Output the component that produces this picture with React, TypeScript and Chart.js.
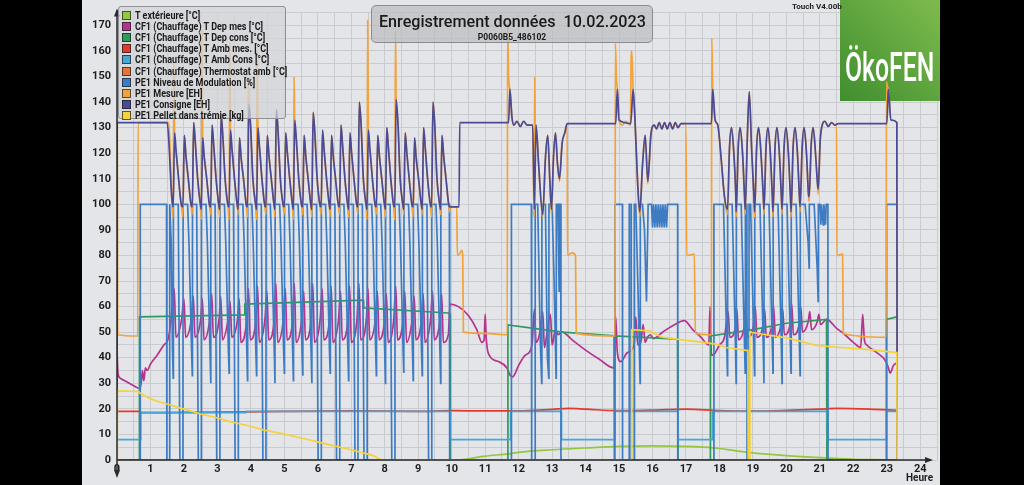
import React, { useEffect, useRef } from 'react';
import { Chart, registerables } from 'chart.js';

Chart.register(...registerables);

type P = [number, number];

const legendLabels = [
  'T extérieure [°C]',
  'CF1 (Chauffage) T Dep mes [°C]',
  'CF1 (Chauffage) T Dep cons [°C]',
  'CF1 (Chauffage) T Amb mes. [°C]',
  'CF1 (Chauffage) T Amb Cons [°C]',
  'CF1 (Chauffage) Thermostat amb [°C]',
  'PE1 Niveau de Modulation [%]',
  'PE1 Mesure [EH]',
  'PE1 Consigne [EH]',
  'PE1 Pellet dans trémie [kg]',
];

const seriesColors = [
  '#93c83e', '#b5338f', '#2f9a5c', '#e23a2d', '#46a6d6',
  '#e5763a', '#3d7cc3', '#f2a33a', '#4b4a95', '#f5d23a',
];

const tExt: P[] = [
  [0, 0], [1, -0.2], [2, -0.5], [3, -0.7], [4, -1.0], [5, -1.3], [6, -1.6], [7, -2.0], [8, -2.3],
  [9, -1.8], [9.5, -1.2], [10, -0.4], [10.5, 0.5], [11, 1.5], [11.7, 2.4], [12, 3.0], [13, 4.0],
  [14, 4.7], [15, 5.3], [16, 5.5], [17, 5.3], [17.5, 5.0], [18, 4.5], [18.5, 3.6], [19, 2.8],
  [20, 1.7], [21, 0.9], [22, 0.3], [23, 0.1], [23.3, 0],
];

const depMes: P[] = [
  [0, 43], [0.03, 34], [0.1, 32], [0.3, 30.5], [0.5, 29], [0.68, 28], [0.72, 30], [0.76, 35], [0.8, 31],
  [0.85, 36], [0.9, 35], [1.0, 37.5], [1.2, 41], [1.4, 45], [1.52, 47], [1.6, 53],
  [1.71, 67], [1.76, 48], [1.93, 55], [2.00, 63], [2.05, 48], [2.22, 55], [2.28, 64], [2.33, 48], [2.50, 55],
  [2.55, 63], [2.60, 47], [2.77, 55], [2.83, 65], [2.88, 48], [3.05, 55], [3.10, 64], [3.15, 47], [3.32, 55],
  [3.38, 62], [3.43, 48], [3.60, 55], [3.65, 63], [3.70, 46], [3.87, 54], [3.93, 67], [3.98, 47], [4.15, 55],
  [4.20, 68], [4.25, 46], [4.42, 55], [4.48, 66], [4.53, 47], [4.70, 55], [4.75, 69], [4.80, 46], [4.97, 55],
  [5.03, 67], [5.08, 47], [5.25, 55], [5.30, 69], [5.35, 46], [5.52, 55], [5.58, 66], [5.63, 47], [5.80, 55],
  [5.85, 69], [5.90, 46], [6.07, 55], [6.13, 67], [6.18, 47], [6.35, 55], [6.40, 68], [6.45, 46], [6.62, 55],
  [6.68, 66], [6.73, 47], [6.90, 55], [6.95, 68], [7.00, 46], [7.17, 55], [7.23, 69], [7.28, 47], [7.45, 55],
  [7.50, 67], [7.55, 47], [7.72, 55], [7.78, 66], [7.83, 47], [8.00, 55], [8.05, 65], [8.10, 46], [8.27, 55],
  [8.33, 68], [8.38, 47], [8.55, 55], [8.60, 66], [8.65, 46], [8.82, 55], [8.88, 64], [8.93, 47], [9.10, 55],
  [9.15, 65], [9.20, 46], [9.37, 55], [9.43, 66], [9.48, 47], [9.65, 55], [9.70, 65], [9.75, 46], [9.90, 49],
  [9.95, 61], [10.2, 60], [10.5, 56.5], [10.75, 51], [10.9, 46], [10.97, 47], [11.0, 57], [11.03, 48],
  [11.1, 41.5], [11.4, 38.5], [11.65, 36], [11.75, 33], [11.82, 32.5], [12.0, 37], [12.2, 41], [12.4, 45],
  [12.47, 59], [12.52, 46], [12.62, 49], [12.72, 58], [12.77, 44], [12.85, 50], [12.95, 57], [13.0, 45],
  [13.1, 51], [13.18, 49], [13.3, 50], [13.6, 47], [14.0, 43], [14.4, 39.5], [14.85, 36], [14.9, 56],
  [14.95, 42], [15.05, 38.5], [15.25, 42], [15.45, 45], [15.5, 56], [15.56, 45], [15.65, 46], [15.72, 53],
  [15.78, 46], [15.85, 48], [15.93, 49], [16.03, 47.5], [16.3, 50], [16.6, 52.5], [16.95, 54.5], [17.2, 51],
  [17.45, 48], [17.68, 45], [17.72, 60], [17.76, 41], [17.85, 41.5], [18.0, 45], [18.15, 48],
  [18.26, 58], [18.31, 48], [18.48, 52], [18.52, 59], [18.57, 47], [18.74, 52], [18.79, 58], [18.84, 48],
  [19.01, 52], [19.07, 60], [19.12, 48], [19.29, 52], [19.35, 59], [19.40, 48], [19.57, 53], [19.62, 60],
  [19.67, 48], [19.84, 53], [19.89, 59], [19.94, 49], [20.11, 53], [20.16, 61], [20.21, 49], [20.38, 53],
  [20.43, 60], [20.48, 50], [20.65, 54], [20.70, 58], [20.75, 51], [20.92, 54], [20.97, 57], [21.02, 53],
  [21.2, 55], [21.5, 51.5], [21.75, 49], [22.0, 46], [22.22, 44], [22.28, 57], [22.33, 47], [22.4, 45],
  [22.7, 42], [22.95, 39], [23.05, 36], [23.1, 34], [23.2, 37], [23.3, 38],
];

const depCons: P[] = [
  [0, 0], [0.66, 0], [0.67, 56], [3.8, 56.8], [3.82, 61], [7.35, 62.5], [7.37, 59.5], [9.9, 57.5],
  [9.95, 57], [9.96, 0], [11.67, 0], [11.68, 52.8], [13.3, 50], [14.85, 48.6], [14.86, 0], [14.88, 48.5],
  [16.75, 47.3], [16.76, 0], [17.72, 0], [17.73, 48.5], [19, 51], [20, 53.5], [21.2, 55], [21.21, 0],
  [22.98, 0], [22.99, 55], [23.3, 56],
];

const ambMes: P[] = [
  [0, 19], [0.7, 19], [0.72, 18.5], [2, 18.6], [3.9, 18.8], [5, 19], [7, 19.2], [9, 19], [10, 19.3],
  [11, 19.2], [12, 19.2], [13, 19.8], [13.5, 20.2], [14, 19.9], [15, 19.3], [16, 19.5], [17, 19.9],
  [18, 19.3], [19, 19.1], [20, 19.4], [21, 19.9], [21.5, 20.2], [22.5, 19.9], [23.3, 19.4],
];

const ambCons: P[] = [
  [0, 8], [0.7, 8], [0.71, 18.5], [3.85, 18.5], [3.86, 19], [9.95, 19], [9.96, 8], [11.75, 8], [11.76, 19],
  [13.27, 19], [13.28, 8], [14.87, 8], [14.88, 19], [16.76, 19], [16.77, 8], [17.78, 8], [17.79, 19],
  [21.22, 19], [21.23, 8], [22.98, 8], [22.99, 19], [23.3, 19],
];

const thermostat: P[] = [[0, 0], [23.3, 0]];

const modulation: P[] = [
  [0, 0], [0.69, 0], [0.695, 100], [1.48, 100], [1.49, 0], [1.57, 0], [1.575, 100],
  [1.62, 85], [1.66, 42], [1.68, 32], [1.685, 100],
  [1.83, 100], [1.88, 0], [1.97, 0], [1.975, 100],
  [2.11, 100], [2.15, 85], [2.23, 42], [2.25, 33], [2.255, 100],
  [2.38, 100], [2.43, 0], [2.52, 0], [2.525, 100],
  [2.66, 100], [2.70, 85], [2.78, 42], [2.80, 30], [2.805, 100],
  [2.93, 100], [2.98, 0], [3.07, 0], [3.075, 100],
  [3.21, 100], [3.25, 85], [3.33, 42], [3.35, 34], [3.355, 100],
  [3.48, 100], [3.53, 0], [3.62, 0], [3.625, 100],
  [3.76, 100], [3.80, 85], [3.88, 42], [3.90, 31], [3.905, 100],
  [4.03, 100], [4.07, 85], [4.15, 42], [4.17, 33], [4.175, 100],
  [4.31, 100], [4.36, 0], [4.45, 0], [4.455, 100],
  [4.58, 100], [4.62, 85], [4.70, 42], [4.72, 30], [4.725, 100],
  [4.86, 100], [4.90, 85], [4.98, 42], [5.00, 34], [5.005, 100],
  [5.13, 100], [5.17, 85], [5.25, 42], [5.27, 31], [5.275, 100],
  [5.41, 100], [5.45, 85], [5.53, 42], [5.55, 33], [5.555, 100],
  [5.68, 100], [5.72, 85], [5.80, 42], [5.82, 30], [5.825, 100],
  [5.96, 100], [6.01, 0], [6.10, 0], [6.105, 100],
  [6.23, 100], [6.27, 85], [6.35, 42], [6.37, 34], [6.375, 100],
  [6.51, 100], [6.56, 0], [6.65, 0], [6.655, 100],
  [6.78, 100], [6.82, 85], [6.90, 42], [6.92, 31], [6.925, 100],
  [7.06, 100], [7.11, 0], [7.20, 0], [7.205, 100],
  [7.33, 100], [7.38, 0], [7.47, 0], [7.475, 100],
  [7.61, 100], [7.65, 85], [7.73, 42], [7.75, 33], [7.755, 100],
  [7.88, 100], [7.92, 85], [8.00, 42], [8.02, 30], [8.025, 100],
  [8.16, 100], [8.21, 0], [8.30, 0], [8.305, 100],
  [8.43, 100], [8.47, 85], [8.55, 42], [8.57, 34], [8.575, 100],
  [8.71, 100], [8.75, 85], [8.83, 42], [8.85, 31], [8.855, 100],
  [8.98, 100], [9.02, 85], [9.10, 42], [9.12, 33], [9.125, 100],
  [9.26, 100], [9.31, 0], [9.40, 0], [9.405, 100],
  [9.53, 100], [9.57, 85], [9.65, 42], [9.67, 30], [9.675, 100],
  [9.93, 100], [9.94, 0], [11.78, 0], [11.785, 100], [12.38, 100], [12.39, 0], [12.49, 0], [12.495, 100],
  [12.57, 100], [12.65, 45], [12.69, 30], [12.695, 100], [12.8, 100], [12.86, 40], [12.9, 32], [12.905, 100],
  [13.0, 100], [13.06, 70], [13.12, 32], [13.125, 100], [13.17, 100], [13.21, 66], [13.215, 100],
  [13.26, 100], [13.265, 0], [14.875, 0], [14.88, 100], [15.1, 100], [15.105, 0], [15.3, 0], [15.305, 100],
  [15.36, 100], [15.365, 0], [15.45, 0], [15.455, 100], [15.5, 100], [15.56, 70], [15.63, 30], [15.635, 100],
  [15.7, 100], [15.76, 90], [15.82, 62], [15.87, 100], [15.97, 100], [16.0, 91], [16.03, 100], [16.07, 91],
  [16.1, 100], [16.14, 91], [16.17, 100], [16.21, 91], [16.24, 100], [16.28, 91], [16.31, 100], [16.35, 91],
  [16.38, 100], [16.42, 91], [16.45, 100], [16.75, 100], [16.755, 0], [17.83, 0], [17.835, 100],
  [18.12, 100], [18.21, 50], [18.24, 33], [18.245, 100],
  [18.38, 100], [18.47, 50], [18.50, 30], [18.505, 100],
  [18.65, 100], [18.74, 50], [18.77, 34], [18.775, 100], [18.82, 100], [18.825, 0], [18.88, 0], [18.885, 100],
  [18.93, 100], [19.02, 50], [19.05, 33], [19.055, 100],
  [19.21, 100], [19.30, 50], [19.33, 30], [19.335, 100],
  [19.48, 100], [19.57, 50], [19.60, 34], [19.605, 100],
  [19.75, 100], [19.84, 50], [19.87, 30], [19.875, 100],
  [20.02, 100], [20.11, 50], [20.14, 34], [20.145, 100],
  [20.29, 100], [20.38, 50], [20.41, 33], [20.415, 100],
  [20.56, 100], [20.65, 85], [20.68, 75], [20.685, 100],
  [20.83, 100], [20.92, 75], [20.95, 62], [20.955, 100],
  [21.0, 100], [21.03, 92], [21.05, 100], [21.1, 92], [21.12, 100], [21.17, 92], [21.19, 100],
  [21.24, 100], [21.245, 0], [22.99, 0], [22.995, 100], [23.3, 100], [23.305, 0],
];

const mesure: P[] = [
  [0, 0], [0.003, 172], [0.02, 49], [0.62, 48.5], [0.63, 132], [1.55, 132], [1.6, 115], [1.66, 96],
  [1.68, 95], [1.70, 155], [1.72, 128], [1.77, 120], [1.84, 110], [1.92, 100],
  [1.97, 95], [2.01, 127], [2.06, 119], [2.13, 110], [2.21, 100],
  [2.25, 96], [2.29, 132], [2.34, 124], [2.41, 110], [2.49, 100],
  [2.52, 94], [2.54, 168], [2.56, 126], [2.61, 118], [2.68, 110], [2.76, 100],
  [2.80, 96], [2.84, 131], [2.89, 123], [2.96, 110], [3.04, 100],
  [3.07, 95], [3.11, 135], [3.16, 127], [3.23, 110], [3.31, 100],
  [3.35, 94], [3.37, 163], [3.39, 129], [3.44, 121], [3.51, 110], [3.59, 100],
  [3.62, 96], [3.66, 126], [3.71, 118], [3.78, 110], [3.86, 100],
  [3.90, 95], [3.92, 148], [3.94, 139], [3.99, 131], [4.06, 110], [4.14, 100],
  [4.17, 94], [4.19, 160], [4.21, 130], [4.26, 122], [4.33, 110], [4.41, 100],
  [4.45, 96], [4.49, 127], [4.54, 119], [4.61, 110], [4.69, 100],
  [4.72, 95], [4.76, 137], [4.81, 129], [4.88, 110], [4.96, 100],
  [5.00, 96], [5.04, 128], [5.09, 120], [5.16, 110], [5.24, 100],
  [5.27, 94], [5.29, 150], [5.31, 133], [5.36, 125], [5.43, 110], [5.51, 100],
  [5.55, 96], [5.59, 127], [5.64, 119], [5.71, 110], [5.79, 100],
  [5.82, 95], [5.86, 136], [5.91, 128], [5.98, 110], [6.06, 100],
  [6.10, 96], [6.14, 129], [6.19, 121], [6.26, 110], [6.34, 100],
  [6.37, 95], [6.41, 127], [6.46, 119], [6.53, 110], [6.61, 100],
  [6.65, 96], [6.69, 131], [6.74, 123], [6.81, 110], [6.89, 100],
  [6.92, 95], [6.96, 128], [7.01, 120], [7.08, 110], [7.16, 100],
  [7.20, 96], [7.24, 140], [7.29, 132], [7.36, 110], [7.44, 100],
  [7.47, 94], [7.49, 172], [7.51, 129], [7.56, 121], [7.63, 110], [7.71, 100],
  [7.75, 96], [7.79, 127], [7.84, 119], [7.91, 110], [7.99, 100],
  [8.02, 95], [8.06, 130], [8.11, 122], [8.18, 110], [8.26, 100],
  [8.30, 94], [8.32, 168], [8.34, 141], [8.39, 133], [8.46, 110], [8.54, 100],
  [8.57, 96], [8.61, 128], [8.66, 120], [8.73, 110], [8.81, 100],
  [8.85, 95], [8.89, 126], [8.94, 118], [9.01, 110], [9.09, 100],
  [9.12, 96], [9.16, 130], [9.21, 122], [9.28, 110], [9.36, 100],
  [9.40, 95], [9.44, 140], [9.49, 132], [9.56, 110], [9.64, 100],
  [9.67, 96], [9.71, 127], [9.76, 119], [9.83, 110], [9.91, 100],
  [9.94, 97], [9.96, 99], [10.15, 99], [10.17, 80], [10.25, 81], [10.3, 82], [10.33, 80], [10.35, 50],
  [11.0, 49.5], [11.66, 49], [11.67, 171], [11.7, 150], [11.74, 145], [11.8, 134], [11.86, 131],
  [11.95, 132.5], [12.05, 130.5], [12.15, 132.5], [12.25, 131], [12.42, 131], [12.46, 95], [12.48, 150],
  [12.5, 128], [12.52, 131], [12.6, 115], [12.72, 95], [12.8, 118], [12.87, 127], [12.93, 110], [12.98, 96],
  [13.04, 118], [13.1, 128], [13.16, 116], [13.22, 109], [13.3, 124], [13.38, 128], [13.45, 131.6],
  [13.46, 80], [13.6, 81], [13.7, 80], [13.72, 49.5], [14.88, 48.5], [14.89, 163], [14.92, 150], [14.95, 145],
  [15.0, 133], [15.1, 131], [15.2, 132.5], [15.34, 131], [15.36, 155], [15.38, 160], [15.42, 145],
  [15.47, 135], [15.55, 110], [15.62, 95], [15.7, 115], [15.78, 127], [15.86, 108], [15.95, 127],
  [16.05, 131], [16.12, 129.5], [16.2, 132], [16.28, 129.5], [16.36, 132], [16.44, 129.5], [16.52, 132],
  [16.6, 129.5], [16.68, 132], [16.76, 130], [16.85, 131.6], [17.0, 131.6], [17.02, 80], [17.25, 80.5],
  [17.28, 49.5], [17.76, 49], [17.77, 165], [17.8, 145], [17.87, 133], [17.95, 131], [18.05, 118],
  [18.15, 103], [18.24, 96],
  [18.30, 122], [18.36, 130], [18.43, 120], [18.49, 103], [18.50, 95], [18.56, 122], [18.62, 130],
  [18.69, 120], [18.75, 103], [18.77, 96], [18.83, 125], [18.89, 144], [18.96, 122], [19.03, 103],
  [19.05, 95], [19.11, 122], [19.17, 130], [19.24, 120], [19.31, 103], [19.33, 96], [19.39, 122],
  [19.45, 130], [19.52, 120], [19.58, 103], [19.60, 95], [19.66, 122], [19.72, 130], [19.79, 120],
  [19.85, 103], [19.87, 96], [19.93, 122], [19.99, 130], [20.06, 120], [20.12, 103], [20.14, 95],
  [20.20, 122], [20.26, 130], [20.33, 120], [20.39, 103], [20.41, 97], [20.47, 122], [20.53, 130],
  [20.60, 120], [20.66, 104], [20.68, 101], [20.74, 123], [20.80, 130], [20.87, 120], [20.93, 108],
  [20.95, 104], [21.01, 125], [21.07, 131], [21.15, 132.5], [21.25, 130.5], [21.35, 132], [21.45, 131],
  [21.5, 131], [21.51, 80], [21.68, 80.5], [21.7, 49.5], [22.98, 48], [22.99, 148], [23.02, 146],
  [23.05, 145], [23.12, 133], [23.3, 132], [23.31, 0],
];

const consigne: P[] = [
  [0, 0], [0.005, 132], [1.5, 132], [1.56, 122], [1.62, 106], [1.66, 100],
  [1.68, 99], [1.72, 128], [1.77, 120], [1.84, 110], [1.92, 100],
  [1.97, 99], [2.01, 127], [2.06, 119], [2.13, 110], [2.21, 100],
  [2.25, 99], [2.29, 132], [2.34, 124], [2.41, 110], [2.49, 100],
  [2.52, 98], [2.56, 126], [2.61, 118], [2.68, 110], [2.76, 100],
  [2.80, 99], [2.84, 131], [2.89, 123], [2.96, 110], [3.04, 100],
  [3.07, 98], [3.11, 135], [3.16, 127], [3.23, 110], [3.31, 100],
  [3.35, 99], [3.39, 129], [3.44, 121], [3.51, 110], [3.59, 100],
  [3.62, 98], [3.66, 126], [3.71, 118], [3.78, 110], [3.86, 100],
  [3.90, 99], [3.94, 139], [3.99, 131], [4.06, 110], [4.14, 100],
  [4.17, 98], [4.21, 130], [4.26, 122], [4.33, 110], [4.41, 100],
  [4.45, 99], [4.49, 127], [4.54, 119], [4.61, 110], [4.69, 100],
  [4.72, 98], [4.76, 137], [4.81, 129], [4.88, 110], [4.96, 100],
  [5.00, 99], [5.04, 128], [5.09, 120], [5.16, 110], [5.24, 100],
  [5.27, 98], [5.31, 133], [5.36, 125], [5.43, 110], [5.51, 100],
  [5.55, 99], [5.59, 127], [5.64, 119], [5.71, 110], [5.79, 100],
  [5.82, 98], [5.86, 136], [5.91, 128], [5.98, 110], [6.06, 100],
  [6.10, 99], [6.14, 129], [6.19, 121], [6.26, 110], [6.34, 100],
  [6.37, 98], [6.41, 127], [6.46, 119], [6.53, 110], [6.61, 100],
  [6.65, 99], [6.69, 131], [6.74, 123], [6.81, 110], [6.89, 100],
  [6.92, 98], [6.96, 128], [7.01, 120], [7.08, 110], [7.16, 100],
  [7.20, 99], [7.24, 140], [7.29, 132], [7.36, 110], [7.44, 100],
  [7.47, 98], [7.51, 129], [7.56, 121], [7.63, 110], [7.71, 100],
  [7.75, 99], [7.79, 127], [7.84, 119], [7.91, 110], [7.99, 100],
  [8.02, 98], [8.06, 130], [8.11, 122], [8.18, 110], [8.26, 100],
  [8.30, 99], [8.34, 141], [8.39, 133], [8.46, 110], [8.54, 100],
  [8.57, 98], [8.61, 128], [8.66, 120], [8.73, 110], [8.81, 100],
  [8.85, 99], [8.89, 126], [8.94, 118], [9.01, 110], [9.09, 100],
  [9.12, 98], [9.16, 130], [9.21, 122], [9.28, 110], [9.36, 100],
  [9.40, 99], [9.44, 140], [9.49, 132], [9.56, 110], [9.64, 100],
  [9.67, 98], [9.71, 127], [9.76, 119], [9.83, 110], [9.91, 100],
  [9.94, 99], [10.22, 99], [10.24, 132], [11.7, 132], [11.74, 145], [11.8, 134], [11.86, 131],
  [11.95, 132.5], [12.05, 130.5], [12.15, 132.5], [12.25, 131], [12.42, 131], [12.47, 98], [12.52, 131],
  [12.6, 115], [12.72, 96], [12.8, 118], [12.87, 127], [12.93, 110], [12.98, 98], [13.04, 118], [13.1, 128],
  [13.16, 116], [13.22, 110], [13.3, 124], [13.38, 128], [13.45, 131.6], [14.9, 131.6], [14.95, 145],
  [15.0, 133], [15.35, 131.6], [15.42, 145], [15.47, 135], [15.55, 110], [15.62, 97], [15.7, 115],
  [15.78, 127], [15.86, 109], [15.95, 127], [16.05, 131], [16.12, 129.5], [16.2, 132], [16.28, 129.5],
  [16.36, 132], [16.44, 129.5], [16.52, 132], [16.6, 129.5], [16.68, 132], [16.76, 130], [16.85, 131.6],
  [17.76, 131.6], [17.8, 145], [17.87, 133], [17.95, 131], [18.05, 118], [18.15, 103], [18.24, 98],
  [18.30, 122], [18.36, 130], [18.43, 120], [18.49, 103], [18.50, 97], [18.56, 122], [18.62, 130],
  [18.69, 120], [18.75, 103], [18.77, 98], [18.83, 125], [18.89, 144], [18.96, 122], [19.03, 103],
  [19.05, 97], [19.11, 122], [19.17, 130], [19.24, 120], [19.31, 103], [19.33, 98], [19.39, 122],
  [19.45, 130], [19.52, 120], [19.58, 103], [19.60, 97], [19.66, 122], [19.72, 130], [19.79, 120],
  [19.85, 103], [19.87, 98], [19.93, 122], [19.99, 130], [20.06, 120], [20.12, 103], [20.14, 97],
  [20.20, 122], [20.26, 130], [20.33, 120], [20.39, 103], [20.41, 99], [20.47, 122], [20.53, 130],
  [20.60, 120], [20.66, 104], [20.68, 103], [20.74, 123], [20.80, 130], [20.87, 120], [20.93, 108],
  [20.95, 106], [21.01, 125], [21.07, 131], [21.15, 132.5], [21.25, 130.5], [21.35, 132], [21.45, 131],
  [21.55, 131.6], [23.0, 131.6], [23.05, 145], [23.12, 133], [23.3, 132], [23.31, 0],
];

const pellet: P[] = [
  [0, 0], [0.01, 27], [0.65, 26.8], [0.7, 26], [0.85, 25], [0.95, 24.3], [1.2, 23], [1.6, 21.5],
  [1.9, 20.3], [2.2, 19.2], [2.5, 18], [2.9, 16.8], [3.4, 14.9], [3.9, 13.5], [4.4, 11.7], [4.9, 10.4],
  [5.4, 8.9], [5.9, 7.4], [6.4, 5.8], [6.9, 4.3], [7.35, 2.8], [7.65, 1.8], [7.9, 0], [15.37, 0],
  [15.38, 51], [15.9, 50.5], [16.3, 48], [16.9, 47], [17.5, 46], [17.9, 45.3], [18.2, 44], [18.85, 42.8],
  [18.86, 0], [18.9, 0], [18.91, 50], [19.4, 49], [20, 47.8], [20.4, 46.5], [20.9, 44.8], [21.6, 44],
  [22.4, 43.3], [23.3, 42], [23.31, 0],
];

const allSeries: P[][] = [tExt, depMes, depCons, ambMes, ambCons, thermostat, modulation, mesure, consigne, pellet];
const smoothSeries = [true, true, false, true, false, false, false, true, true, false];

const xTickLabels = Array.from({ length: 25 }, (_, i) => String(i));
const xMin = 0, xMax = 24.5, xStep = 0.5;
const yMin = 0, yMax = 175, yStep = 5, yLabelEvery = 10;

const BG = '#e4e5e8';
const GRID = '#c9cbce';
const FONT = 'Roboto, "DejaVu Sans", sans-serif';

const decorPlugin = {
  id: 'decor',
  beforeDatasetsDraw(chart: any) {
    const ctx = chart.ctx as CanvasRenderingContext2D;
    ctx.save();
    const g = ctx.createLinearGradient(758, 101, 858, 0);
    g.addColorStop(0, '#3f8e2e');
    g.addColorStop(1, '#7ebb4e');
    ctx.fillStyle = g;
    ctx.fillRect(758, 0, 100, 101);
    ctx.restore();
  },
  afterDraw(chart: any) {
    const ctx = chart.ctx as CanvasRenderingContext2D;
    const { left, right, top, bottom } = chart.chartArea;
    ctx.save();
    ctx.strokeStyle = '#2a2a2a';
    ctx.fillStyle = '#2a2a2a';
    ctx.lineWidth = 1.5;
    ctx.beginPath();
    ctx.moveTo(left, bottom + 12);
    ctx.lineTo(left, top - 2);
    ctx.moveTo(left, bottom);
    ctx.lineTo(right - 6, bottom);
    ctx.stroke();
    ctx.beginPath();
    ctx.moveTo(left, top - 4); ctx.lineTo(left - 3, top + 4); ctx.lineTo(left + 3, top + 4); ctx.closePath();
    ctx.fill();
    ctx.beginPath();
    ctx.moveTo(left, bottom + 18); ctx.lineTo(left - 3, bottom + 10); ctx.lineTo(left + 3, bottom + 10); ctx.closePath();
    ctx.fill();
    ctx.beginPath();
    ctx.moveTo(right - 4, bottom); ctx.lineTo(right - 12, bottom - 3); ctx.lineTo(right - 12, bottom + 3); ctx.closePath();
    ctx.fill();
    ctx.restore();
  },
};

export default function App() {
  const ref = useRef<HTMLCanvasElement>(null);

  useEffect(() => {
    const chart = new Chart(ref.current as HTMLCanvasElement, {
      type: 'line',
      data: {
        datasets: allSeries.map((s, i) => ({
          label: legendLabels[i],
          data: s.map(([x, y]) => ({ x, y })),
          borderColor: seriesColors[i],
          backgroundColor: seriesColors[i],
          borderWidth: 1.7,
          pointRadius: 0,
          fill: false,
          tension: 0,
          cubicInterpolationMode: smoothSeries[i] ? 'monotone' : 'default',
          order: 10 - i,
        })),
      },
      options: {
        animation: false,
        responsive: false,
        events: [],
        layout: { padding: { left: 0, right: 2, top: 9, bottom: 0 } },
        plugins: { legend: { display: false }, tooltip: { enabled: false }, title: { display: false } },
        scales: {
          x: {
            type: 'linear',
            min: xMin,
            max: xMax,
            afterFit: (s: any) => { s.height = 25; },
            grid: { color: GRID, lineWidth: 1, drawTicks: false },
            border: { display: false },
            ticks: {
              stepSize: xStep,
              autoSkip: false,
              maxRotation: 0,
              padding: 3,
              color: '#1e1e1e',
              font: { family: FONT, size: 11, weight: 'bold' },
              callback: (v: any) => {
                const n = Number(v);
                return Number.isInteger(n) && n < xTickLabels.length ? xTickLabels[n] : '';
              },
            },
          },
          y: {
            type: 'linear',
            min: yMin,
            max: yMax,
            afterFit: (s: any) => { s.width = 35; },
            grid: { color: GRID, lineWidth: 1, drawTicks: false },
            border: { display: false },
            ticks: {
              stepSize: yStep,
              autoSkip: false,
              padding: 6,
              color: '#1e1e1e',
              font: { family: FONT, size: 11, weight: 'bold' },
              callback: (v: any) => (Number(v) % yLabelEvery === 0 ? String(v) : ''),
            },
          },
        },
      },
      plugins: [decorPlugin],
    } as any);
    return () => chart.destroy();
  }, []);

  return (
    <div style={{ position: 'fixed', left: 0, top: 0, width: 1024, height: 485, background: '#000', overflow: 'hidden', fontFamily: FONT }}>
      <div style={{ position: 'absolute', left: 82, top: 0, width: 858, height: 485, background: BG }} />
      <canvas ref={ref} width={858} height={485} style={{ position: 'absolute', left: 82, top: 0, width: 858, height: 485 }} />
      <div style={{ position: 'absolute', left: 118, top: 6, width: 168, height: 113, boxSizing: 'border-box', background: 'rgba(210,212,216,0.72)', border: '1px solid #8e9094', borderRadius: 3 }}>
        {legendLabels.map((l, i) => (
          <div key={l} style={{ position: 'absolute', left: 3, top: 3 + i * 11.1, height: 11, display: 'flex', alignItems: 'center' }}>
            <div style={{ width: 7, height: 7, background: seriesColors[i], border: '1px solid rgba(30,30,30,0.7)', flex: 'none' }} />
            <div style={{ marginLeft: 4, fontSize: 10, fontWeight: 700, color: '#1b1b1b', whiteSpace: 'nowrap', transform: 'scaleX(0.9)', transformOrigin: 'left center', lineHeight: '11px' }}>{l}</div>
          </div>
        ))}
      </div>
      <div style={{ position: 'absolute', left: 371, top: 5, width: 282, height: 38, boxSizing: 'border-box', background: 'rgba(186,188,192,0.72)', border: '1px solid #8a8c90', borderRadius: 5, textAlign: 'center' }}>
        <div style={{ position: 'absolute', left: 0, right: 0, top: 5, fontSize: 17, fontWeight: 500, color: '#1a1a1a', whiteSpace: 'pre', lineHeight: '20px', transform: 'scaleX(0.95)' }}>{'Enregistrement données  10.02.2023'}</div>
        <div style={{ position: 'absolute', left: 0, right: 0, top: 26, fontSize: 8.5, fontWeight: 700, color: '#1a1a1a', lineHeight: '10px' }}>P0060B5_486102</div>
      </div>
      <div style={{ position: 'absolute', left: 792, top: 2, fontSize: 8, fontWeight: 700, color: '#1e1e1e', lineHeight: '10px' }}>Touch V4.00b</div>
      <div style={{ position: 'absolute', left: 845, top: 44, width: 140, fontSize: 40, fontWeight: 500, color: '#fff', lineHeight: '48px', transform: 'scaleX(0.62)', transformOrigin: 'left top', whiteSpace: 'nowrap' }}>ÖkoFEN</div>
      <div style={{ position: 'absolute', left: 906, top: 472, fontSize: 10, fontWeight: 700, color: '#1e1e1e', lineHeight: '12px' }}>Heure</div>
    </div>
  );
}
